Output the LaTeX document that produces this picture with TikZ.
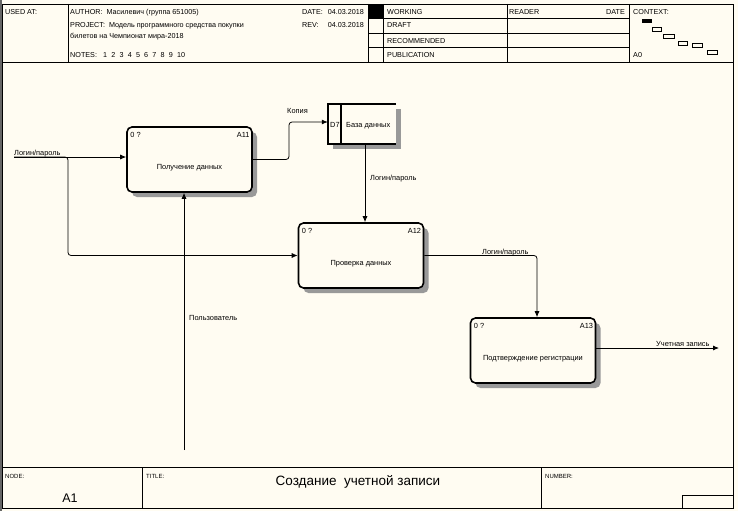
\documentclass[tikz,border=0pt]{standalone}
\usepackage{fontspec}
\setmainfont{Liberation Sans}
\usetikzlibrary{arrows.meta,shadows}
\definecolor{paper}{RGB}{255,252,242}

\tikzset{
  func/.style={draw, line width=1.6pt, rounded corners=5pt, fill=paper,
    minimum width=125pt, minimum height=65pt, inner sep=0pt,
    drop shadow={shadow xshift=5pt, shadow yshift=-5pt, fill=black!40, opacity=1}},
  arr/.style={-{Latex[length=6pt,width=5pt]}, line width=0.8pt, rounded corners=3pt},
  lbl/.style={anchor=base west, inner sep=0pt, font=\fontsize{7.4}{8}\selectfont},
  hdr/.style={anchor=base west, inner sep=0pt, font=\fontsize{7.2}{8}\selectfont},
  tiny/.style={anchor=base west, inner sep=0pt, font=\fontsize{6}{7}\selectfont},
  frm/.style={line width=0.8pt},
}

\begin{document}
\begin{tikzpicture}[x=1pt, y=-1pt]
  \useasboundingbox (0,0) rectangle (738,511);
  \fill[paper] (0,0) rectangle (738,511);
  \fill[black!60] (0,0) rectangle (2,511);

  % frame
  \draw[frm] (2,4) rectangle (733,508);
  \draw[frm] (2,62) -- (733,62);
  \draw[frm] (2,467) -- (733,467);
  \foreach \x in {68,368,383,507,629}
    \draw[frm] (\x,4) -- (\x,62);
  \foreach \y in {18,33,47}
    \draw[frm] (368,\y) -- (629,\y);
  \fill (368,4) rectangle (383,18);
  \draw[frm] (142,467) -- (142,508);
  \draw[frm] (541,467) -- (541,508);
  \draw[frm] (682,508) |- (733,495);

  % header texts
  \node[hdr] at (5,15) {USED AT:};
  \node[hdr] at (70,15) {AUTHOR:\ \ Масилевич (группа 651005)};
  \node[hdr] at (70,28) {PROJECT:\ \ Модель программного средства покупки};
  \node[hdr] at (70,38) {билетов на Чемпионат мира-2018};
  \node[hdr] at (70,57) {NOTES:};
  \foreach \i in {1,...,10}
    \node[hdr] at ({103+(\i-1)*8.2},57) {\i};
  \node[hdr] at (302,15) {DATE:};
  \node[hdr, anchor=base east] at (364,15) {04.03.2018};
  \node[hdr] at (302,28) {REV:};
  \node[hdr, anchor=base east] at (364,28) {04.03.2018};
  \node[hdr] at (387,15) {WORKING};
  \node[hdr] at (387,28) {DRAFT};
  \node[hdr] at (387,44) {RECOMMENDED};
  \node[hdr] at (387,57) {PUBLICATION};
  \node[hdr] at (509,15) {READER};
  \node[hdr, anchor=base east] at (625,15) {DATE};
  \node[hdr] at (633,15) {CONTEXT:};
  \node[hdr] at (633,57) {A0};

  % context
  \fill (642,19) rectangle (652,23);
  \foreach \x/\y/\w in {652/27/9, 663/34/11, 678/41/9, 692/43/10, 707/50/10}
    \draw[line width=0.8pt] (\x,\y) rectangle ++(\w,4);

  % footer texts
  \node[tiny] at (5,478) {NODE:};
  \node[tiny] at (146,478) {TITLE:};
  \node[tiny] at (545,478) {NUMBER:};
  \node[anchor=base, inner sep=0pt, font=\fontsize{12.5}{14}\selectfont] at (70,502) {A1};
  \node[anchor=base, inner sep=0pt, font=\fontsize{13.5}{15}\selectfont] at (358,485) {Создание\ \ учетной записи};

  % functions
  \node[func] (a11) at (189.5,159.5) {};
  \node[func] (a12) at (361,255.5) {};
  \node[func] (a13) at (533,350.5) {};
  \foreach \n/\t/\c in {a11/A11/Получение данных, a12/A12/Проверка данных,
      a13/A13/Подтверждение регистрации} {
    \node[lbl] at ([shift={(4pt,-11.5pt)}]\n.north west) {0 ?};
    \node[lbl, anchor=base east] at ([shift={(-3pt,-11.5pt)}]\n.north east) {\t};
    \node[lbl, anchor=base] at ([yshift=-10pt]\n.center) {\c};
  }

  % data store
  \node[fill=paper, minimum width=68pt, minimum height=40pt, inner sep=0pt,
    drop shadow={shadow xshift=5pt, shadow yshift=-5pt, fill=black!40, opacity=1}]
    (db) at (362,124) {};
  \draw[line width=1.6pt] (db.north east) -- (db.north west) -- (db.south west) -- (db.south east);
  \draw[line width=1.6pt] ([xshift=13pt]db.north west) -- ([xshift=13pt]db.south west);
  \node[lbl] at (330,127) {D7};
  \node[lbl] at (346,127) {База данных};

  % arrows
  \coordinate (in1) at (14,157);
  \coordinate (br) at (68,157);
  \coordinate (k1) at (289,122);
  \coordinate (usr) at (184,450);
  \coordinate (out) at (719,348);
  \draw[arr] (in1) -- (in1 -| a11.west);
  \draw[arr] (in1) -| (a12.west -| br) -- (a12.west);
  \draw[arr] (a11.east) -| (k1) -- (k1 -| db.west);
  \draw[arr] ([xshift=3pt]db.south) -- ([xshift=3pt]db.south |- a12.north);
  \draw[arr] (usr) -- (usr |- a11.south);
  \draw[arr] (a12.east) -| ([xshift=4pt]a13.north);
  \draw[arr] (out -| a13.east) -- (out);

  % arrow labels
  \node[lbl] at (14,155) {Логин/пароль};
  \node[lbl] at (287,113) {Копия};
  \node[lbl] at (370,180) {Логин/пароль};
  \node[lbl] at (189,320) {Пользователь};
  \node[lbl] at (482,254) {Логин/пароль};
  \node[lbl] at (656,346) {Учетная запись};
\end{tikzpicture}
\end{document}
